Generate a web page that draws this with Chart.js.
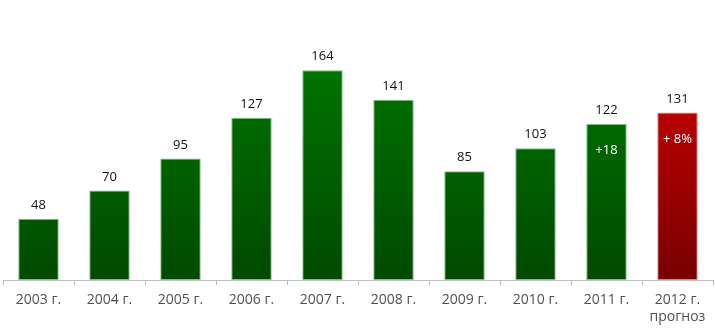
<!DOCTYPE html>
<html>
<head>
<meta charset="utf-8">
<script src="https://cdn.jsdelivr.net/npm/chart.js@4"></script>
<style>
  html, body { margin: 0; padding: 0; background: #fff; }
  #wrap { width: 715px; height: 329px; }
</style>
</head>
<body>
<div id="wrap"><canvas id="grafico"></canvas></div>
<script>
// Datos del gráfico
const categorias = ["2003 г.", "2004 г.", "2005 г.", "2006 г.", "2007 г.", "2008 г.", "2009 г.", "2010 г.", "2011 г.", ["2012 г.", "прогноз"]];
const valores = [48, 70, 95, 127, 164, 141, 85, 103, 122, 131];
const etiquetasInternas = ["", "", "", "", "", "", "", "", "+18", "+ 8%"];
const esPronostico = [false, false, false, false, false, false, false, false, false, true];

// Degradado vertical para cada barra
function degradado(ctx, arriba, abajo) {
    const area = ctx.chart.chartArea;
    if (!area) return arriba;
    const g = ctx.chart.ctx.createLinearGradient(0, area.top + 60, 0, area.bottom);
    g.addColorStop(0, arriba);
    g.addColorStop(1, abajo);
    return g;
}

// Plugin para escribir los valores encima y dentro de las barras
const etiquetasPlugin = {
    id: "etiquetas",
    afterDatasetsDraw(chart) {
        const c = chart.ctx;
        const meta = chart.getDatasetMeta(0);
        c.save();
        c.textAlign = "center";
        c.textBaseline = "alphabetic";
        meta.data.forEach((bar, i) => {
            c.fillStyle = "#111";
            c.font = "13px 'Open Sans'";
            c.fillText(String(valores[i]), bar.x, bar.y - 10);
            if (etiquetasInternas[i]) {
                c.fillStyle = "#fff";
                c.fillText(etiquetasInternas[i], bar.x, bar.y + 30);
            }
        });
        c.restore();
    }
};

const ctx = document.getElementById("grafico").getContext("2d");
new Chart(ctx, {
    type: "bar",
    data: {
        labels: categorias,
        datasets: [{
            data: valores,
            backgroundColor: function (c) {
                return esPronostico[c.dataIndex]
                    ? degradado(c, "#cc0000", "#780000")
                    : degradado(c, "#007500", "#004a00");
            },
            borderColor: function (c) {
                return esPronostico[c.dataIndex] ? "#e88080" : "#7fbf7f";
            },
            borderWidth: 1,
            borderSkipped: false,
            categoryPercentage: 1,
            barPercentage: 0.57
        }]
    },
    options: {
        responsive: true,
        maintainAspectRatio: false,
        animation: false,
        layout: { padding: { left: 3, right: 2, top: 0, bottom: 0 } },
        plugins: {
            legend: { display: false },
            tooltip: { enabled: false }
        },
        scales: {
            x: {
                offset: true,
                afterFit: function (escala) {
                    escala.height = 49; // eje en y = 280
                },
                grid: {
                    offset: true,
                    drawOnChartArea: false,
                    drawTicks: true,
                    tickLength: 5,
                    color: "#bdbdbd"
                },
                border: { color: "#bdbdbd", width: 1 },
                ticks: {
                    color: "#505050",
                    font: { family: "'Open Sans'", size: 14 },
                    padding: 7,
                    maxRotation: 0,
                    autoSkip: false
                }
            },
            y: {
                display: false,
                min: 0,
                max: 219
            }
        }
    },
    plugins: [etiquetasPlugin]
});
</script>
</body>
</html>
